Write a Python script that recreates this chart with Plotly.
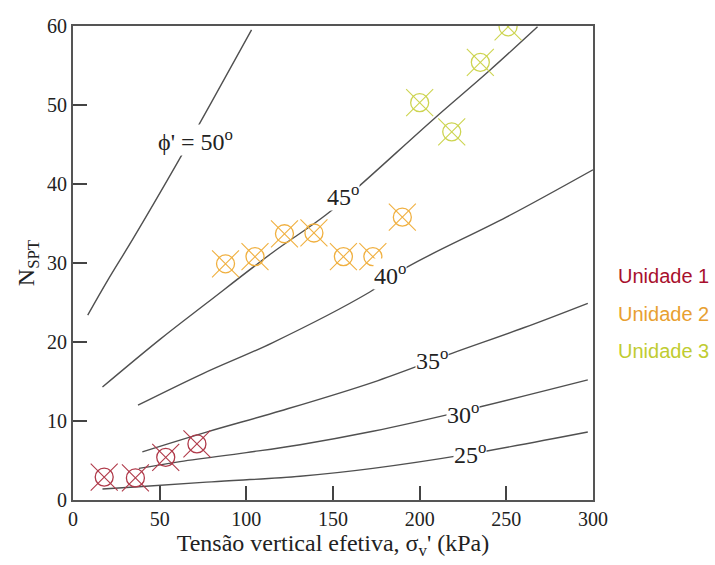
import plotly.graph_objects as go

# ---- data ----
x_ticks = [0, 50, 100, 150, 200, 250, 300]
y_ticks = [0, 10, 20, 30, 40, 50, 60]

phi50_x = [8.5, 20, 35, 60, 80, 103]
phi50_y = [23.4, 27.8, 33.2, 42.6, 50.4, 59.5]
phi45_x = [17, 50, 77, 115, 146, 168, 208, 240, 268]
phi45_y = [14.3, 20.3, 24.9, 31.3, 36.1, 40.3, 48.2, 54.3, 59.9]
phi40_x = [37.5, 75, 115, 171, 193, 250, 300]
phi40_y = [12.0, 16.0, 19.9, 26.3, 29.5, 35.8, 41.8]
phi35_x = [40, 77, 120, 173, 219, 260, 297]
phi35_y = [6.1, 8.6, 11.3, 14.9, 18.6, 21.8, 24.9]
phi30_x = [38, 60, 100, 131, 173, 220, 297]
phi30_y = [4.0, 4.8, 6.0, 7.0, 8.7, 11.0, 15.2]
phi25_x = [17, 40, 80, 131, 173, 228, 297]
phi25_y = [1.4, 1.7, 2.3, 3.0, 4.0, 5.8, 8.6]

u1_x = [18, 36, 53.5, 71.5]
u1_y = [2.9, 2.8, 5.4, 7.1]
u2_x = [88, 105, 122, 139, 156, 173, 190]
u2_y = [29.9, 30.8, 33.7, 33.8, 30.8, 30.8, 35.8]
u3_x = [200, 218.5, 235, 251]
u3_y = [50.3, 46.6, 55.4, 59.9]

curve_labels = ["ϕ' = 50<sup>o</sup>", "45<sup>o</sup>", "40<sup>o</sup>",
                "35<sup>o</sup>", "30<sup>o</sup>", "25<sup>o</sup>"]
label_x = [70.5, 156, 183, 207, 225, 229]
label_y = [45.6, 38.6, 28.6, 17.8, 11.0, 5.9]

unit_names = ["Unidade 1", "Unidade 2", "Unidade 3"]
unit_text_colors = ["#A8102C", "#E8A030", "#C0CC30"]
unit_marker_colors = ["#B03A4A", "#F0B040", "#CDD450"]

serif = "Liberation Serif, Times New Roman, serif"
sans = "Liberation Sans, Arial, sans-serif"
line_col = "#505050"

fig = go.Figure()

for cx, cy in [(phi50_x, phi50_y), (phi45_x, phi45_y), (phi40_x, phi40_y),
               (phi35_x, phi35_y), (phi30_x, phi30_y), (phi25_x, phi25_y)]:
    fig.add_trace(go.Scatter(x=cx, y=cy, mode="lines", line=dict(color=line_col, width=1.4, shape="spline"),
                             showlegend=False, hoverinfo="skip"))

for (ux, uy), col in zip([(u1_x, u1_y), (u2_x, u2_y), (u3_x, u3_y)], unit_marker_colors):
    fig.add_trace(go.Scatter(x=ux, y=uy, mode="markers",
                             marker=dict(symbol="circle-open", size=18, color=col, line=dict(width=1.3, color=col)),
                             showlegend=False, hoverinfo="skip"))
    fig.add_trace(go.Scatter(x=ux, y=uy, mode="markers",
                             marker=dict(symbol="x-thin-open", size=27, color=col, line=dict(width=1.1, color=col)),
                             showlegend=False, hoverinfo="skip"))

annotations = []
for t, lx, ly in zip(curve_labels, label_x, label_y):
    annotations.append(dict(x=lx, y=ly, xref="x", yref="y", text=t, showarrow=False,
                            font=dict(family=serif, size=24, color="#222"),
                            bgcolor="white", borderpad=0))

W, H = 715, 565
L, R, T, B = 73, 122, 26, 65
pw, ph = W - L - R, H - T - B
for i, (n, c) in enumerate(zip(unit_names, unit_text_colors)):
    px, py = 663, 276 + 37.5 * i
    annotations.append(dict(x=(px - L) / pw, y=(H - B - py) / ph, xref="paper", yref="paper",
                            xanchor="center", yanchor="middle", text=n, showarrow=False,
                            font=dict(family=sans, size=20, color=c)))

fig.update_layout(
    width=W, height=H,
    margin=dict(l=L, r=R, t=T, b=B),
    paper_bgcolor="white", plot_bgcolor="white",
    annotations=annotations,
    xaxis=dict(range=[0, 300], tickvals=x_ticks, ticks="inside", ticklen=14, tickwidth=2, tickcolor="#444",
               showline=True, linecolor="#555", linewidth=2, mirror=True, showgrid=False, zeroline=False,
               tickfont=dict(family=serif, size=20, color="#222"),
               title=dict(text="Tensão vertical efetiva, σ<sub>v</sub>' (kPa)", font=dict(family=serif, size=24, color="#222"),
                          standoff=4)),
    yaxis=dict(range=[0, 60], tickvals=y_ticks, ticks="inside", ticklen=14, tickwidth=2, tickcolor="#444",
               showline=True, linecolor="#555", linewidth=2, mirror=True, showgrid=False, zeroline=False,
               tickfont=dict(family=serif, size=20, color="#222"),
               title=dict(text="N<sub>SPT</sub>", font=dict(family=serif, size=24, color="#222"), standoff=6)),
)

fig.write_html("out.html")
